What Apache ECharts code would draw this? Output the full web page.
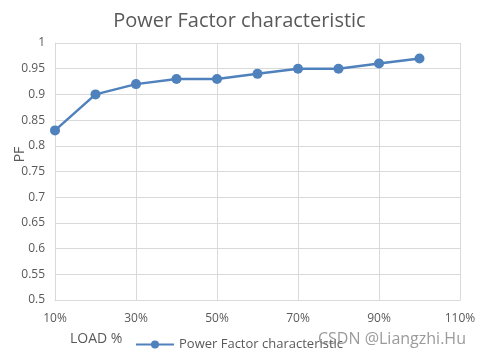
<!DOCTYPE html>
<html><head><meta charset="utf-8">
<script src="https://cdn.jsdelivr.net/npm/echarts@6/dist/echarts.min.js"></script>
<style>html,body{margin:0;padding:0;background:#fff}#c{width:479px;height:358px}</style>
</head><body><div id="c"></div>
<script>
const loads = [10, 20, 30, 40, 50, 60, 70, 80, 90, 100];
const pf = [0.83, 0.90, 0.92, 0.93, 0.93, 0.94, 0.95, 0.95, 0.96, 0.97];
const seriesName = 'Power Factor characteristic';
const font = '"Open Sans", "Noto Sans", sans-serif';
const chart = echarts.init(document.getElementById('c'));
chart.setOption({
  animation: false,
  title: {text: 'Power Factor characteristic', left: 'center', top: 6,
    textStyle: {color: '#595959', fontSize: 20, fontWeight: 'normal', fontFamily: font}},
  legend: {left: 130, top: 333, itemWidth: 38, itemHeight: 10, itemGap: 4,
    textStyle: {color: '#595959', fontSize: 13, fontFamily: font}, data: [seriesName]},
  grid: {left: 55, right: 19, top: 43, bottom: 58, outerBoundsMode: 'none', containLabel: false},
  xAxis: {type: 'value', min: 10, max: 110, interval: 20,
    axisLine: {show: true, lineStyle: {color: '#d9d9d9'}}, axisTick: {show: false},
    splitLine: {show: true, lineStyle: {color: '#d9d9d9'}},
    axisLabel: {formatter: v => v + '%', color: '#595959', fontSize: 12, margin: 13, fontFamily: font}},
  yAxis: {type: 'value', min: 0.5, max: 1, interval: 0.05, name: 'PF', nameLocation: 'middle', nameGap: 28,
    nameMoveOverlap: false,
    nameTextStyle: {color: '#595959', fontSize: 14, fontFamily: font, padding: [0, 0, 0, 34]},
    axisLine: {show: true, lineStyle: {color: '#d9d9d9'}}, axisTick: {show: false},
    splitLine: {show: true, lineStyle: {color: '#d9d9d9'}},
    axisLabel: {formatter: v => String(+v.toFixed(2)), color: '#595959', fontSize: 12, margin: 10, fontFamily: font}},
  graphic: [
    {type: 'text', left: 70, top: 332, style: {text: 'LOAD %', fill: '#595959', fontSize: 14, fontFamily: font}},
    {type: 'text', left: 318, top: 331, z: 100, style: {text: 'CSDN @Liangzhi.Hu', fill: 'rgba(120,120,120,0.75)', fontSize: 16, fontFamily: font}}
  ],
  series: [{name: seriesName, type: 'line', data: loads.map((x, i) => [x, pf[i]]),
    symbol: 'circle', symbolSize: 10, itemStyle: {color: '#4f81bd'}, lineStyle: {width: 2.5, color: '#4f81bd'}}]
});
</script></body></html>
